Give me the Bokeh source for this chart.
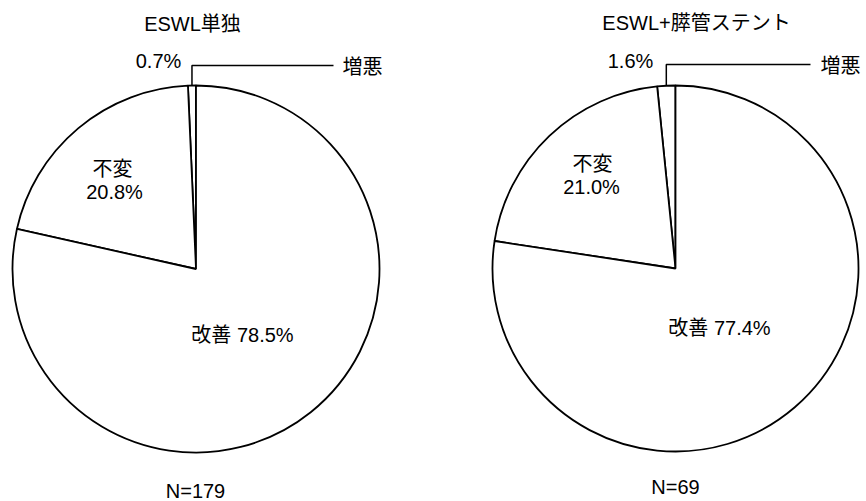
import numpy as np
from bokeh.plotting import figure
from bokeh.layouts import row
from bokeh.models import Range1d
from bokeh.core.properties import value
from bokeh.embed import file_html
from bokeh.resources import INLINE

# ---- data ----
categories = ["増悪", "不変", "改善"]
eswl_only = [0.7, 20.8, 78.5]
eswl_stent = [1.6, 21.0, 77.4]
titles = ["ESWL単独", "ESWL+膵管ステント"]
n_values = [179, 69]

FONT = value("Liberation Sans, 'Noto Sans CJK JP', sans-serif")
H = 501


def make_pie(vals, title, n, W, cx, cy, r, lay):
    # lay: layout positions (screen px, y from top)
    p = figure(width=W, height=H, x_range=Range1d(0, W), y_range=Range1d(0, H),
               x_axis_type=None, y_axis_type=None, toolbar_location=None,
               output_backend="svg", min_border=0)
    p.grid.visible = False
    p.outline_line_color = None
    p.background_fill_color = "white"
    p.border_fill_color = "white"

    Y = lambda y: H - y
    v = np.array(vals, dtype=float)
    frac = v / v.sum()
    cum = np.concatenate([[0], np.cumsum(frac)])
    start = np.pi / 2 + cum[:-1] * 2 * np.pi
    end = np.pi / 2 + cum[1:] * 2 * np.pi
    p.wedge(x=cx, y=Y(cy), radius=r, start_angle=start, end_angle=end,
            direction="anticlock", fill_color="white", line_color="black",
            line_width=1.8)

    # leader for the small slice
    mid = (start[0] + end[0]) / 2
    lx = cx + r * np.cos(mid)
    ly = Y(cy) + r * np.sin(mid)
    p.line(x=[lx, lx, lay["lead_end"]], y=[ly, Y(lay["lead_y"]), Y(lay["lead_y"])],
           line_color="black", line_width=1.5)

    ts = "20px"
    def txt(pos, s, align="center"):
        p.text(x=[pos[0]], y=[Y(pos[1])], text=[s], text_font=FONT,
               text_font_size=ts, text_align=align, text_baseline="middle",
               text_color="black")

    txt(lay["title"], title)
    txt(lay["small_pct"], f"{vals[0]:.1f}%")
    txt(lay["small_name"], categories[0], "left")
    txt(lay["mid_name"], categories[1])
    txt(lay["mid_pct"], f"{vals[1]:.1f}%")
    txt(lay["big"], f"{categories[2]} {vals[2]:.1f}%")
    txt(lay["n"], f"N={n}")
    return p


lay1 = dict(title=(192, 23), small_pct=(158, 60), small_name=(342, 66),
            lead_y=65, lead_end=333, mid_name=(112, 168), mid_pct=(114, 191),
            big=(242, 334), n=(195, 490))
off = 433
lay2 = dict(title=(696 - off, 22), small_pct=(630 - off, 60),
            small_name=(820 - off, 65), lead_y=64, lead_end=810 - off,
            mid_name=(592 - off, 163), mid_pct=(591 - off, 186),
            big=(719 - off, 327), n=(675 - off, 486))

p1 = make_pie(eswl_only, titles[0], n_values[0], 433, 195.5, 268.5, 183.5, lay1)
p2 = make_pie(eswl_stent, titles[1], n_values[1], 433, 675 - off, 268, 183, lay2)

layout = row(p1, p2, spacing=0)
open("out.html", "w").write(file_html(layout, INLINE))
